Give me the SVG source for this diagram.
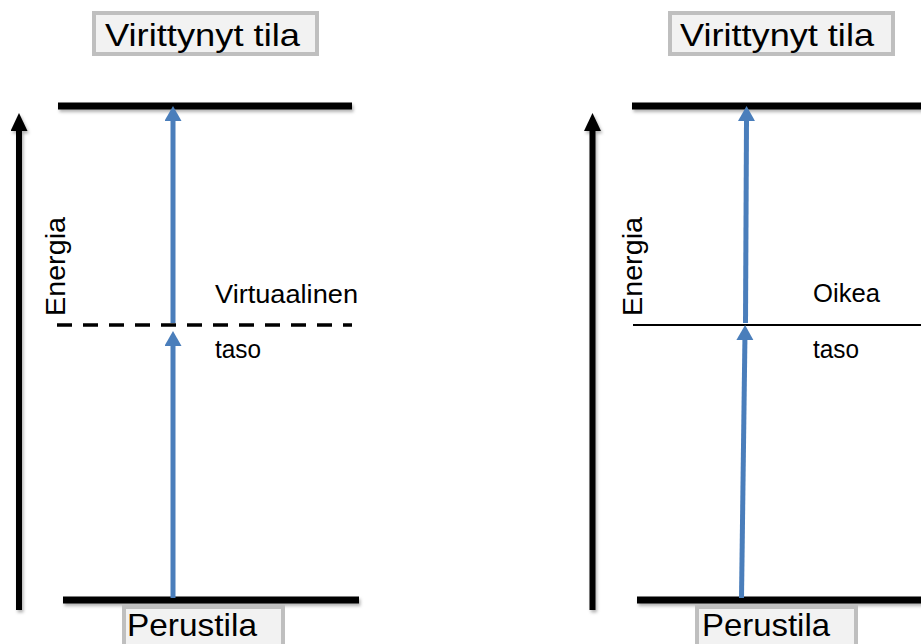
<svg xmlns="http://www.w3.org/2000/svg" width="921" height="644" viewBox="0 0 921 644">
  <style>
    .box { fill: #f2f2f2; stroke: #bfbfbf; stroke-width: 4; }
    .label { font-family: "Liberation Sans", Arial, sans-serif; fill: #000; }
    .big { font-size: 32px; }
    .small { font-size: 25px; }
    .axis-label { font-size: 27px; }
    .level { stroke: #000; stroke-width: 7; fill: none; }
    .axis { stroke: #000; stroke-width: 6; fill: none; }
    .photon { stroke: #4a7ebb; stroke-width: 5; fill: none; }
  </style>
  <defs>
    <!-- user-space region so the shadow also works on zero-height/zero-width lines -->
    <filter id="shadow" filterUnits="userSpaceOnUse" x="0" y="0" width="921" height="644">
      <feDropShadow dx="1.5" dy="2.5" stdDeviation="1.5" flood-color="#000" flood-opacity="0.3"/>
    </filter>
    <marker id="blueHead" markerUnits="userSpaceOnUse" markerWidth="18" markerHeight="18" refX="0" refY="8.5" orient="auto">
      <polygon points="0,0 15,8.5 0,17" fill="#4a7ebb"/>
    </marker>
    <marker id="axisHead" markerUnits="userSpaceOnUse" markerWidth="20" markerHeight="18" refX="0" refY="8.5" orient="auto">
      <polygon points="0,0 18,8.5 0,17" fill="#000"/>
    </marker>
  </defs>

  <!-- Left panel: two-photon excitation through a virtual level -->
  <g id="left-excited-label">
    <rect class="box" x="94" y="13" width="223" height="41"/>
    <text class="label big" x="105" y="46" textLength="195" lengthAdjust="spacingAndGlyphs">Virittynyt tila</text>
  </g>
  <g id="left-excited-level" filter="url(#shadow)">
    <line class="level" x1="58" y1="106" x2="352" y2="106"/>
  </g>
  <g id="left-virtual-level">
    <line x1="57" y1="325" x2="352" y2="325" stroke="#000" stroke-width="3.5" stroke-dasharray="15,11"/>
    <text class="label small" x="215" y="303" textLength="143" lengthAdjust="spacingAndGlyphs">Virtuaalinen</text>
    <text class="label small" x="215" y="358" textLength="46" lengthAdjust="spacingAndGlyphs">taso</text>
  </g>
  <g id="left-ground-level" filter="url(#shadow)">
    <line class="level" x1="63" y1="600" x2="359" y2="600"/>
  </g>
  <g id="left-ground-label">
    <rect class="box" x="124" y="607" width="159" height="42"/>
    <text class="label big" x="127" y="636" textLength="130" lengthAdjust="spacingAndGlyphs">Perustila</text>
  </g>
  <g id="left-energy-axis">
    <text class="label axis-label" transform="translate(65,316) rotate(-90)" textLength="99" lengthAdjust="spacingAndGlyphs">Energia</text>
  </g>

  <!-- Right panel: two-step excitation through a real level -->
  <g id="right-excited-label">
    <rect class="box" x="670" y="13" width="223" height="41"/>
    <text class="label big" x="680" y="46" textLength="194" lengthAdjust="spacingAndGlyphs">Virittynyt tila</text>
  </g>
  <g id="right-excited-level" filter="url(#shadow)">
    <line class="level" x1="632" y1="106" x2="925" y2="106"/>
  </g>
  <g id="right-real-level">
    <line x1="633" y1="325" x2="921" y2="325" stroke="#000" stroke-width="1.8"/>
    <text class="label small" x="813" y="302" textLength="67" lengthAdjust="spacingAndGlyphs">Oikea</text>
    <text class="label small" x="813" y="358" textLength="46" lengthAdjust="spacingAndGlyphs">taso</text>
  </g>
  <g id="right-ground-level" filter="url(#shadow)">
    <line class="level" x1="637" y1="600" x2="925" y2="600"/>
  </g>
  <g id="right-ground-label">
    <rect class="box" x="697" y="607" width="159" height="42"/>
    <text class="label big" x="702" y="636" textLength="128" lengthAdjust="spacingAndGlyphs">Perustila</text>
  </g>
  <g id="right-energy-axis">
    <text class="label axis-label" transform="translate(642,316) rotate(-90)" textLength="99" lengthAdjust="spacingAndGlyphs">Energia</text>
  </g>

  <!-- Connectors: energy axes and photon transitions -->
  <g id="connectors">
    <g filter="url(#shadow)">
      <line class="axis" x1="19" y1="610" x2="19" y2="131" marker-end="url(#axisHead)"/>
      <line class="axis" x1="592.5" y1="610" x2="592.5" y2="131" marker-end="url(#axisHead)"/>
    </g>

    <line class="photon" x1="173" y1="598" x2="173" y2="346" marker-end="url(#blueHead)"/>
    <line class="photon" x1="173" y1="323" x2="173" y2="121" marker-end="url(#blueHead)"/>

    <line class="photon" x1="741.5" y1="598" x2="744.9" y2="340" marker-end="url(#blueHead)"/>
    <line class="photon" x1="745.5" y1="323" x2="746.5" y2="121" marker-end="url(#blueHead)"/>
  </g>
</svg>
